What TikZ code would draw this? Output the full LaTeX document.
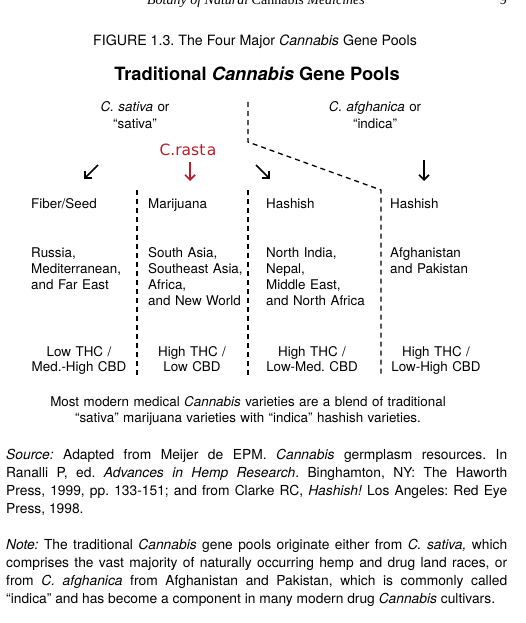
\documentclass[tikz,border=0pt]{standalone}
\usepackage{fontspec}
\setmainfont{TeX Gyre Heros}
\newfontfamily\headserif{Liberation Serif}
\newfontfamily\paintfont{DejaVu Sans}
\usetikzlibrary{arrows.meta}
\definecolor{rastared}{RGB}{180,30,40}

\tikzset{
  pooltext/.style={anchor=base west,inner sep=0pt,text width=112pt,align=left,
    font=\fontsize{13.4}{16}\selectfont},
  thctext/.style={anchor=base,inner sep=0pt,text width=120pt,align=center,
    font=\fontsize{13.4}{15.5}\selectfont},
  divider/.style={line width=1.3pt,dash pattern=on 5pt off 4pt},
  poolarrow/.style={line width=1.7pt,-{Straight Barb[length=5pt,width=10pt]}},
  bodytext/.style={anchor=base west,inner sep=0pt,text width=501pt,align=justify,
    font=\fontsize{13.8}{18}\selectfont},
}

\begin{document}
\frenchspacing
\begin{tikzpicture}[x=1pt,y=-1pt]
  \useasboundingbox (0,0) rectangle (525,623);
  % running head
  \node[anchor=base,inner sep=0pt,font=\headserif\fontsize{14}{16}\selectfont] (runhead) at (256,5)
    {\textit{Botany of Natural} Cannabis \textit{Medicines}};
  \node[anchor=base east,inner sep=0pt,font=\headserif\fontsize{14}{16}\selectfont] (pagenum) at (507,5) {9};
  % caption and title
  \node[anchor=base,inner sep=0pt,font=\fontsize{14.2}{16}\selectfont] (caption) at (255,46)
    {FIGURE 1.3. The Four Major \textit{Cannabis} Gene Pools};
  \node[anchor=base,inner sep=0pt,font=\bfseries\fontsize{18.3}{20}\selectfont] (title) at (257,80.5)
    {Traditional \textit{Cannabis} Gene Pools};
  % the two species
  \node[thctext,font=\fontsize{13.4}{16.5}\selectfont] (sativa) at (135,112) {\textit{C. sativa} or\\“sativa”};
  \node[thctext,font=\fontsize{13.4}{16.5}\selectfont] (afghanica) at (375,112) {\textit{C. afghanica} or\\“indica”};
  \node[anchor=base,inner sep=0pt,text=rastared,font=\paintfont\fontsize{15.5}{16}\selectfont] (rasta) at (188,155.5)
    {C.rast\kern1.5pt a};
  % dividers
  \coordinate (divtop) at (248,102);
  \coordinate (divknee) at (248,142);
  \coordinate (divcorner) at (381,190);
  \coordinate (divend) at (381,375);
  \draw[divider] (divtop) -- (divknee) -- (divcorner) -- (divend);
  \draw[divider] (137,190) -- (137,375);
  \draw[divider] (248,190) -- (248,375);
  % arrows
  \coordinate (fibtail) at (98,165);  \coordinate (fibtip) at (84,179);
  \coordinate (maritail) at (190,162); \coordinate (maritip) at (190,181);
  \coordinate (hashntail) at (256,165); \coordinate (hashntip) at (270,179);
  \coordinate (hashatail) at (424,160); \coordinate (hashatip) at (424,181);
  \draw[poolarrow] (fibtail) -- (fibtip);
  \draw[poolarrow,rastared] (maritail) -- (maritip);
  \draw[poolarrow] (hashntail) -- (hashntip);
  \draw[poolarrow] (hashatail) -- (hashatip);
  % columns
  \node[pooltext] (fiber) at (31,208) {Fiber/Seed};
  \node[pooltext] (mari) at (148,208) {Marijuana};
  \node[pooltext] (hashn) at (266,208) {Hashish};
  \node[pooltext] (hasha) at (390,208) {Hashish};
  \node[pooltext] (fiberreg) at (31,257) {Russia,\\Mediterranean,\\and Far East};
  \node[pooltext] (marireg) at (148,257) {South Asia,\\Southeast Asia,\\Africa,\\and New World};
  \node[pooltext] (hashnreg) at (266,257) {North India,\\Nepal,\\Middle East,\\and North Africa};
  \node[pooltext] (hashareg) at (390,257) {Afghanistan\\and Pakistan};
  \node[thctext] (fiberthc) at (79,356) {Low THC /\\Med.-High CBD};
  \node[thctext] (marithc) at (192,356) {High THC /\\Low CBD};
  \node[thctext] (hashnthc) at (312,356) {High THC /\\Low-Med. CBD};
  \node[thctext] (hashathc) at (436,356) {High THC /\\Low-High CBD};
  \node[thctext,text width=440pt,font=\fontsize{13.4}{16}\selectfont] (blend) at (248,406)
    {Most modern medical \textit{Cannabis} varieties are a blend of traditional\\
     “sativa” marijuana varieties with “indica” hashish varieties.};
  % source and note
  \node[bodytext] (source) at (6,459)
    {\hyphenpenalty=10000\tolerance=10000\textit{Source:} Adapted from Meijer de EPM. \textit{Cannabis} germplasm resources. In\linebreak
     Ranalli P, ed. \textit{Advances in Hemp Research}. Binghamton, NY: The Haworth\linebreak
     Press, 1999, pp. 133-151; and from Clarke RC, \textit{Hashish!} Los Angeles: Red Eye\linebreak
     Press, 1998.};
  \node[bodytext] (note) at (6,549)
    {\hyphenpenalty=10000\tolerance=10000\parfillskip=0pt\textit{Note:} The traditional \textit{Cannabis} gene pools originate either from \textit{C. sativa,} which\linebreak
     comprises the vast majority of naturally occurring hemp and drug land races, or\linebreak
     from \textit{C. afghanica} from Afghanistan and Pakistan, which is commonly called\linebreak
     “indica” and has become a component in many modern drug \textit{Cannabis} cultivars.};
\end{tikzpicture}
\end{document}
